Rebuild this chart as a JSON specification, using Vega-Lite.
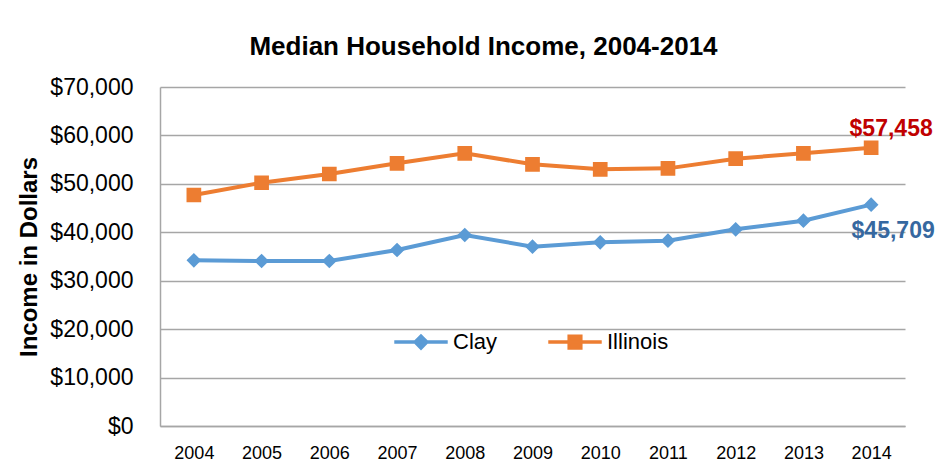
{
  "$schema": "https://vega.github.io/schema/vega-lite/v6.json",
  "width": 745,
  "height": 339,
  "autosize": {"type": "none"},
  "padding": {"left": 160, "top": 87, "right": 43, "bottom": 42},
  "background": "white",
  "title": {
    "text": "Median Household Income, 2004-2014",
    "font": "Liberation Sans",
    "fontSize": 26,
    "fontWeight": "bold",
    "color": "#000000",
    "anchor": "middle",
    "dx": -49,
    "baseline": "alphabetic",
    "offset": -5
  },
  "config": {
    "view": {"stroke": null},
    "font": "Liberation Sans",
    "axis": {"grid": false, "ticks": false}
  },
  "data": {
    "values": [
      {"year": "2004", "series": "Clay", "income": 34210},
      {"year": "2005", "series": "Clay", "income": 34070},
      {"year": "2006", "series": "Clay", "income": 34070},
      {"year": "2007", "series": "Clay", "income": 36340},
      {"year": "2008", "series": "Clay", "income": 39440},
      {"year": "2009", "series": "Clay", "income": 37030},
      {"year": "2010", "series": "Clay", "income": 37930},
      {"year": "2011", "series": "Clay", "income": 38270},
      {"year": "2012", "series": "Clay", "income": 40620},
      {"year": "2013", "series": "Clay", "income": 42400},
      {"year": "2014", "series": "Clay", "income": 45709},
      {"year": "2004", "series": "Illinois", "income": 47700},
      {"year": "2005", "series": "Illinois", "income": 50230},
      {"year": "2006", "series": "Illinois", "income": 52030},
      {"year": "2007", "series": "Illinois", "income": 54240},
      {"year": "2008", "series": "Illinois", "income": 56310},
      {"year": "2009", "series": "Illinois", "income": 54040},
      {"year": "2010", "series": "Illinois", "income": 53000},
      {"year": "2011", "series": "Illinois", "income": 53200},
      {"year": "2012", "series": "Illinois", "income": 55190},
      {"year": "2013", "series": "Illinois", "income": 56310},
      {"year": "2014", "series": "Illinois", "income": 57458}
    ]
  },
  "encoding": {
    "x": {
      "field": "year",
      "type": "ordinal",
      "scale": {"type": "point", "padding": 0.5},
      "axis": {
        "title": null,
        "labelAngle": 0,
        "labelFontSize": 18,
        "labelColor": "#000000",
        "labelPadding": 18,
        "domainColor": "#a6a6a6",
        "domainWidth": 1.5
      }
    },
    "y": {
      "field": "income",
      "type": "quantitative",
      "scale": {"domain": [0, 70000]},
      "axis": {
        "title": "Income in  Dollars",
        "titleFontSize": 24,
        "titleFontWeight": "bold",
        "titleColor": "#000000",
        "titlePadding": 8,
        "values": [0, 10000, 20000, 30000, 40000, 50000, 60000, 70000],
        "format": "$,.0f",
        "labelFontSize": 23,
        "labelColor": "#000000",
        "labelPadding": 27,
        "grid": true,
        "gridColor": "#a6a6a6",
        "gridWidth": 1.5,
        "domainColor": "#a6a6a6",
        "domainWidth": 1.5
      }
    },
    "color": {
      "field": "series",
      "type": "nominal",
      "scale": {"domain": ["Clay", "Illinois"], "range": ["#5b9bd5", "#ed7d31"]},
      "legend": {
        "title": null,
        "orient": "none",
        "legendX": 250,
        "legendY": 244,
        "direction": "horizontal",
        "symbolType": "M-4.6,0H4.6M0,-1L1,0L0,1L-1,0Z",
        "symbolSize": 135,
        "labelFontSize": 22,
        "labelColor": "#000000",
        "labelOffset": 21,
        "columnPadding": 43,
        "symbolStrokeWidth": 3.5
      }
    }
  },
  "layer": [
    {
      "mark": {"type": "line", "strokeWidth": 4}
    },
    {
      "mark": {"type": "point", "filled": true, "opacity": 1, "size": 216},
      "encoding": {
        "shape": {
          "field": "series",
          "type": "nominal",
          "scale": {
            "domain": ["Clay", "Illinois"],
            "range": ["M-4.6,0H4.6M0,-1L1,0L0,1L-1,0Z", "M-4.6,0H4.6M-1,-1H1V1H-1Z"]
          },
          "legend": null
        }
      }
    },
    {
      "transform": [{"filter": "datum.year == '2014' && datum.series == 'Illinois'"}],
      "mark": {
        "type": "text",
        "font": "Liberation Sans",
        "fontSize": 23,
        "fontWeight": "bold",
        "baseline": "alphabetic",
        "align": "center",
        "dx": 20,
        "dy": -12
      },
      "encoding": {
        "text": {"field": "income", "type": "quantitative", "format": "$,.0f"},
        "color": {"value": "#c00000"}
      }
    },
    {
      "transform": [{"filter": "datum.year == '2014' && datum.series == 'Clay'"}],
      "mark": {
        "type": "text",
        "font": "Liberation Sans",
        "fontSize": 23,
        "fontWeight": "bold",
        "baseline": "alphabetic",
        "align": "center",
        "dx": 22,
        "dy": 33
      },
      "encoding": {
        "text": {"field": "income", "type": "quantitative", "format": "$,.0f"},
        "color": {"value": "#3668a0"}
      }
    }
  ]
}
